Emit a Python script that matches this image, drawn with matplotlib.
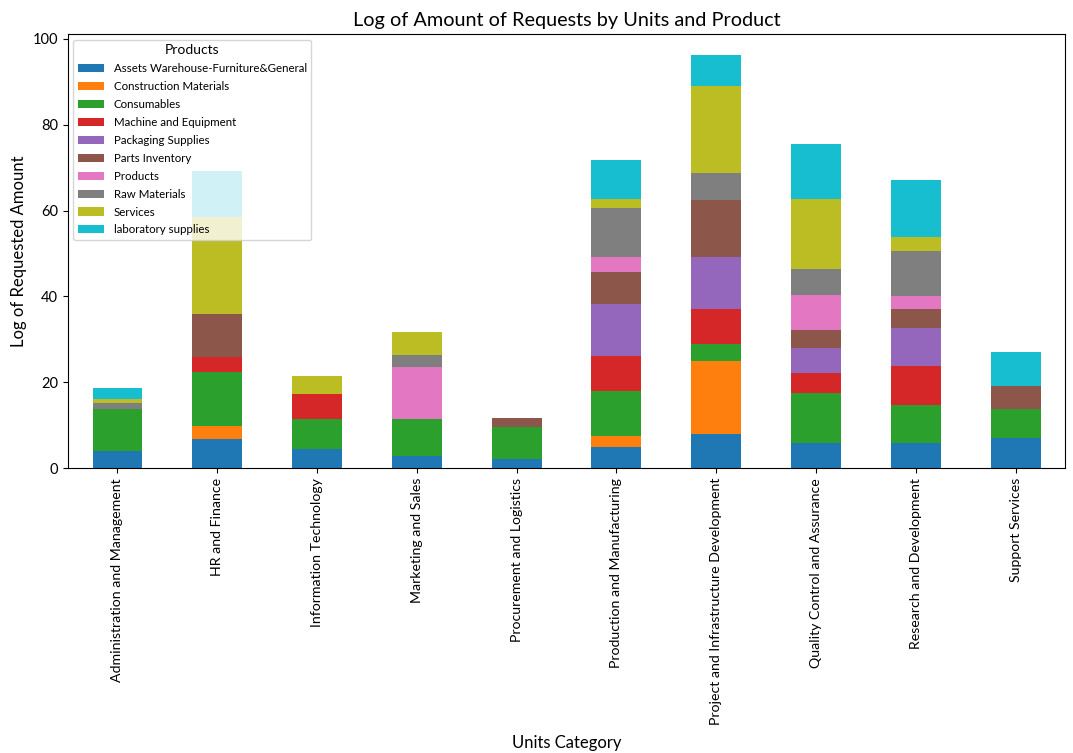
import matplotlib.pyplot as plt
import numpy as np

plt.rcParams['font.family'] = ['Lato', 'DejaVu Sans']

units = [
    "Administration and Management", "HR and Finance", "Information Technology",
    "Marketing and Sales", "Procurement and Logistics", "Production and Manufacturing",
    "Project and Infrastructure Development", "Quality Control and Assurance",
    "Research and Development", "Support Services",
]

products = [
    "Assets Warehouse-Furniture&General", "Construction Materials", "Consumables",
    "Machine and Equipment", "Packaging Supplies", "Parts Inventory", "Products",
    "Raw Materials", "Services", "laboratory supplies",
]

assets = [4.1, 6.8, 4.4, 2.95, 2.1, 5.05, 8.1, 6.0, 6.0, 7.1]
construction = [0, 3.1, 0, 0, 0, 2.45, 16.9, 0, 0, 0]
consumables = [9.8, 12.6, 7.0, 8.45, 7.5, 10.5, 4.0, 11.6, 8.8, 6.7]
machine = [0, 3.4, 5.9, 0, 0, 8.2, 8.2, 4.5, 9.0, 0]
packaging = [0, 0, 0, 0, 0, 12.0, 12.1, 6.0, 8.8, 0]
parts = [0, 10.0, 0, 0, 2.1, 7.5, 13.2, 4.2, 4.6, 5.4]
products_vals = [0, 0, 0, 12.1, 0, 3.6, 0, 8.0, 2.8, 0]
raw = [1.25, 0, 0, 2.9, 0, 11.4, 6.2, 6.2, 10.7, 0]
services = [0.95, 22.5, 4.2, 5.4, 0, 2.0, 20.4, 16.3, 3.2, 0]
lab = [2.55, 10.8, 0, 0, 0, 9.1, 7.2, 12.6, 13.2, 7.9]

series = [assets, construction, consumables, machine, packaging,
          parts, products_vals, raw, services, lab]

fig = plt.figure(figsize=(10.73, 7.53), dpi=100)
ax = fig.add_axes([0.063, 0.378, 0.93, 0.577])

x = np.arange(len(units))
bottom = np.zeros(len(units))
colors = plt.get_cmap("tab10").colors
for name, vals, c in zip(products, series, colors):
    vals = np.array(vals, dtype=float)
    ax.bar(x, vals, width=0.5, bottom=bottom, color=c, label=name)
    bottom += vals

ax.set_xlim(-0.5, len(units) - 0.5)
ax.set_xticks(x)
ax.set_xticklabels(units, rotation=90, fontsize=10.2)
ax.tick_params(axis="y", labelsize=10.5)
ax.set_title("Log of Amount of Requests by Units and Product", fontsize=14.3)
ax.set_xlabel("Units Category", fontsize=12, va="center")
ax.xaxis.set_label_coords(0.5, -0.633)
ax.set_ylabel("Log of Requested Amount", fontsize=12)
ax.legend(title="Products", loc="upper left", fontsize=8.3, title_fontsize=10,
          labelspacing=0.6, handlelength=2.3)

fig.savefig("out.png", dpi=100)
